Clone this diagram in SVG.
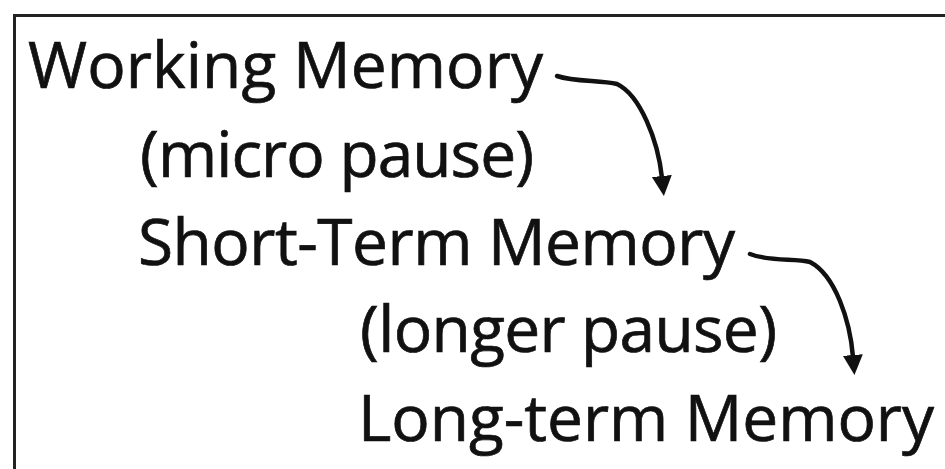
<svg xmlns="http://www.w3.org/2000/svg" width="945" height="469" viewBox="0 0 945 469">
  <style>
    .lbl { font-family: "Open Sans", "Noto Sans", "Liberation Sans", sans-serif; font-size: 64px; fill: #111; stroke: #111; stroke-width: 0.7; }
    .conn { fill: none; stroke: #111; stroke-width: 4.5; stroke-linecap: round; }
    .frame { fill: none; stroke: #222; stroke-width: 3; }
  </style>
  <defs>
    <marker id="ah" markerUnits="userSpaceOnUse" markerWidth="22" markerHeight="22" refX="2" refY="10" orient="auto">
      <path d="M0,0 L20,10 L0,20 z" fill="#111"/>
    </marker>
  </defs>
  <rect width="945" height="469" fill="#fff"/>
  <rect class="frame" x="14.5" y="15.5" width="1000" height="500"/>
  <g id="working-memory"><text class="lbl" x="28" y="88" textLength="515" lengthAdjust="spacing">Working Memory</text></g>
  <g id="micro-pause"><text class="lbl" x="140" y="177" textLength="394" lengthAdjust="spacing">(micro pause)</text></g>
  <g id="short-term-memory"><text class="lbl" x="138" y="265" textLength="597" lengthAdjust="spacing">Short-Term Memory</text></g>
  <g id="longer-pause"><text class="lbl" x="360" y="352" textLength="417" lengthAdjust="spacing">(longer pause)</text></g>
  <g id="long-term-memory"><text class="lbl" x="358" y="441" textLength="576" lengthAdjust="spacing">Long-term Memory</text></g>
  <g id="connectors">
    <path class="conn" d="M557,76 C575,82 600,80 617,84 C640,95 658,140 662,178" marker-end="url(#ah)"/>
    <path class="conn" d="M750,254 C770,262 795,258 810,262 C835,275 850,320 853,357" marker-end="url(#ah)"/>
  </g>
</svg>
